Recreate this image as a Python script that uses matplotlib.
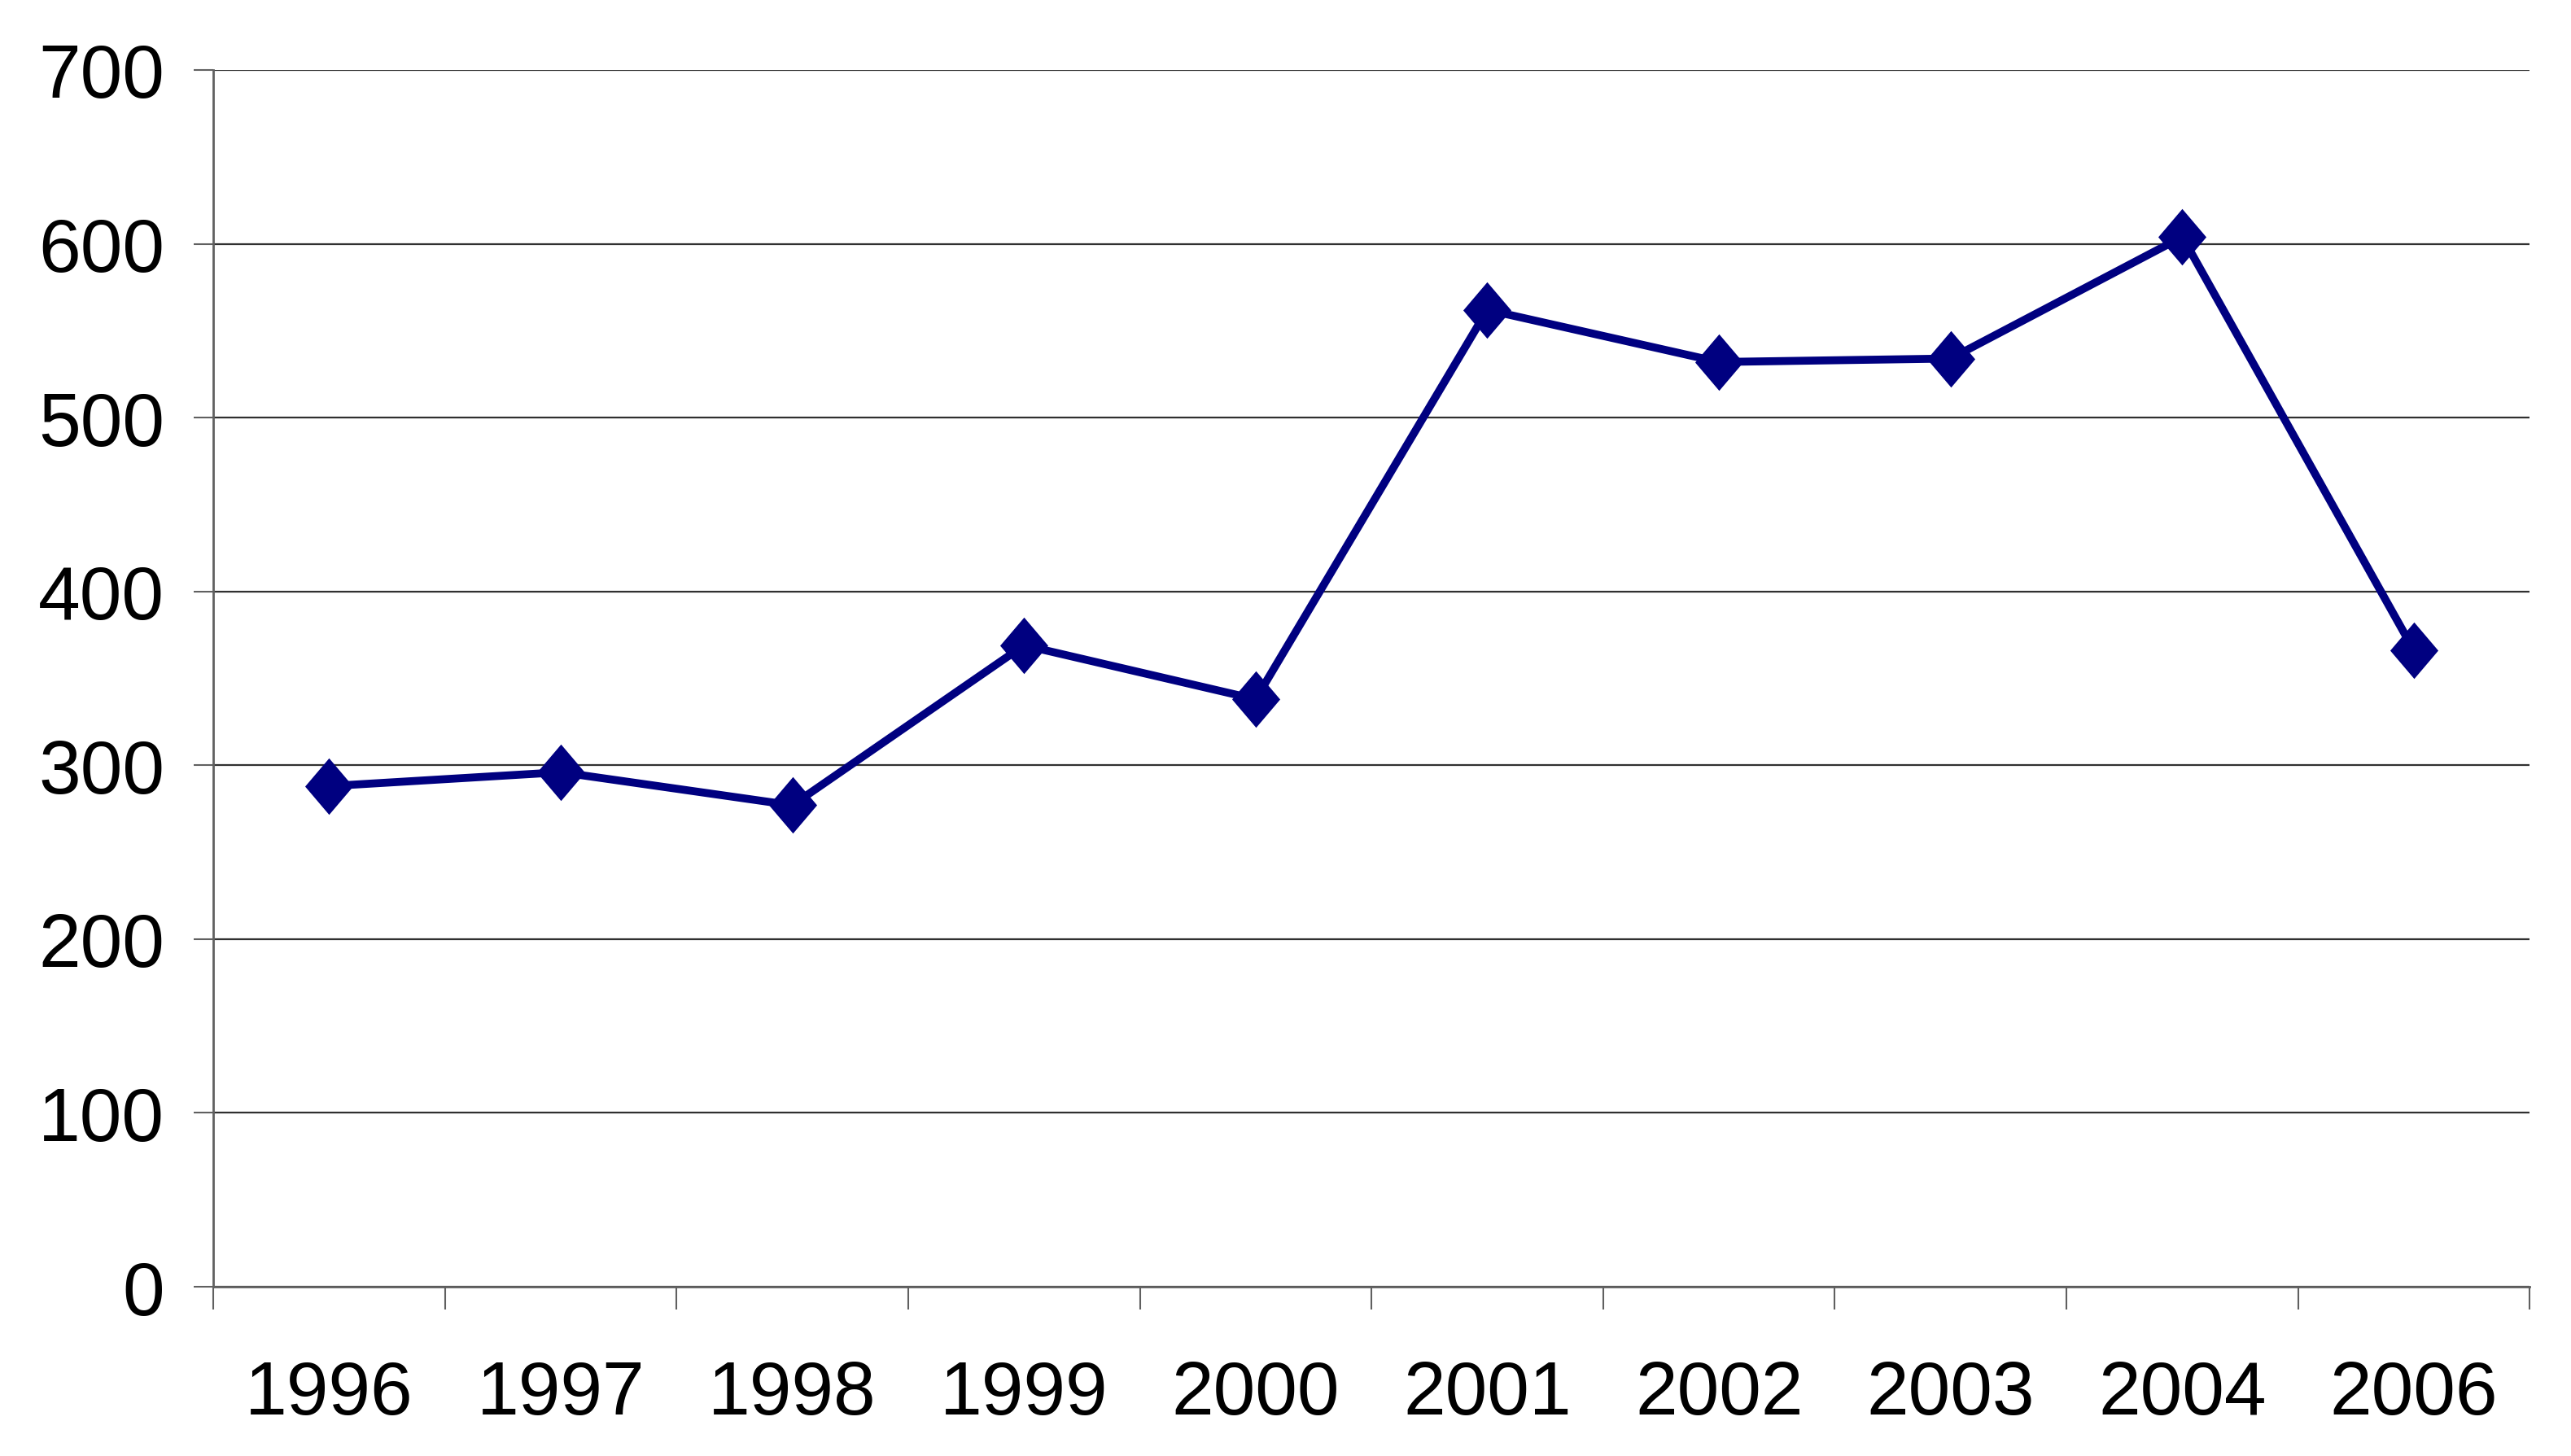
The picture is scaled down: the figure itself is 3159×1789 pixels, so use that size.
from matplotlib import pyplot as plt
from matplotlib.ticker import FixedLocator, NullFormatter

years = ['1996', '1997', '1998', '1999', '2000', '2001', '2002', '2003', '2004', '2006']
values = [288, 296, 277, 369, 338, 562, 532, 534, 604, 366]
yticks = [0, 100, 200, 300, 400, 500, 600, 700]

plt.rcParams['font.family'] = ['Liberation Sans', 'DejaVu Sans']

fig = plt.figure(figsize = (31.59, 17.90), dpi = 100)
ax = fig.add_axes([0.0829, 0.1162, 0.9011, 0.8352])

x = list(range(len(years)))
diamond = [(-0.85, 0), (0, 1), (0.85, 0), (0, -1), (-0.85, 0)]
ax.plot(x, values, color = '#000080', linewidth = 7,
        marker = diamond, markersize = 50, markeredgewidth = 0, zorder = 3)

ax.set_xlim(-0.5, len(years) - 0.5)
ax.set_ylim(0, 700)

ax.set_yticks(yticks)
ax.set_yticklabels([str(v) for v in yticks])
ax.set_xticks(x)
ax.set_xticklabels(years)
ax.xaxis.set_minor_locator(FixedLocator([i - 0.5 for i in range(len(years) + 1)]))
ax.xaxis.set_minor_formatter(NullFormatter())

ax.tick_params(axis = 'y', labelsize = 67, length = 17, width = 1.5,
               color = '#606060', pad = 26, labelcolor = 'black')
ax.tick_params(axis = 'x', which = 'major', labelsize = 67, length = 0, pad = 64)
ax.tick_params(axis = 'x', which = 'minor', length = 20, width = 1.5, color = '#606060')

ax.grid(axis = 'y', color = '#303030', linewidth = 1.6)
ax.set_axisbelow(True)

for side in ['top', 'right']:
    ax.spines[side].set_visible(False)
for side in ['left', 'bottom']:
    ax.spines[side].set_color('#606060')
    ax.spines[side].set_linewidth(2)

fig.savefig('out.png', dpi = 100)
